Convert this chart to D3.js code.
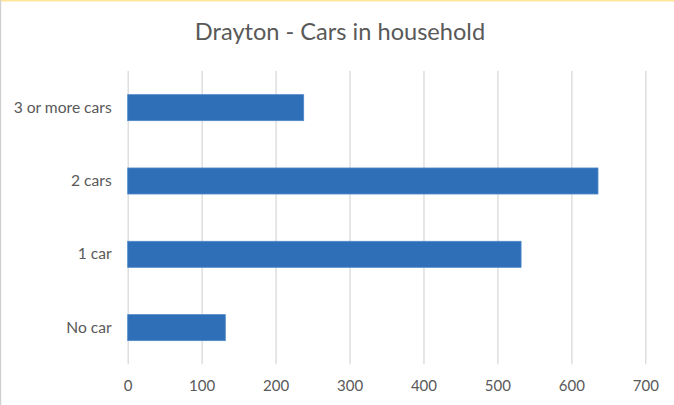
<!DOCTYPE html>
<html>
<head>
<meta charset="utf-8">
<script src="https://cdn.jsdelivr.net/npm/d3@7/dist/d3.min.js"></script>
<style>
  body { margin: 0; background: #fff; }
  .axis text { font-family: Lato, "Open Sans", sans-serif; fill: #595959; }
  .grid line { stroke: #d9d9d9; stroke-width: 1.3; }
</style>
</head>
<body>
<div class="chart"></div>
<script>
var chartTitle = 'Drayton - Cars in household';
var categories = ['3 or more cars', '2 cars', '1 car', 'No car'];
var households = [238, 636, 532, 132];
var xTicks = [0, 100, 200, 300, 400, 500, 600, 700];

var W = 674, H = 405;
var plot = {left: 127.7, right: 645.3, top: 71, bottom: 364.3};

var svg = d3.select('.chart')
            .append('svg')
            .attr('width', W)
            .attr('height', H);

// chart frame edges as seen in the screenshot
svg.append('rect').attr('x', 0).attr('y', 0).attr('width', W).attr('height', H).attr('fill', '#fff');
svg.append('rect').attr('x', 0).attr('y', 0).attr('width', W).attr('height', 1.5).attr('fill', '#ffe699');
svg.append('rect').attr('x', 0).attr('y', 0).attr('width', 1.2).attr('height', H).attr('fill', '#d0d0d0');

var x = d3.scaleLinear().domain([0, 700]).range([plot.left, plot.right]);
var y = d3.scaleBand()
          .domain(categories)
          .range([plot.top, plot.bottom])
          .paddingInner(0.645)
          .paddingOuter(0.3225);

// x axis + vertical gridlines
var xAxis = d3.axisBottom(x)
              .tickValues(xTicks)
              .tickSize(-(plot.bottom - plot.top))
              .tickSizeOuter(0)
              .tickPadding(16.5);

var gx = svg.append('g')
            .attr('class', 'axis grid')
            .attr('transform', 'translate(0,' + plot.bottom + ')')
            .call(xAxis);
gx.select('.domain').remove();
gx.selectAll('text').style('font-size', '15px');

// bars
svg.selectAll('.bar')
   .data(categories)
   .enter()
   .append('rect')
   .attr('class', 'bar')
   .attr('x', x(0))
   .attr('y', function(d) { return y(d); })
   .attr('width', function(d, i) { return x(households[i]) - x(0); })
   .attr('height', y.bandwidth())
   .attr('fill', '#2e6fb7')
   .attr('stroke', '#4f88c9')
   .attr('stroke-width', 0.8);

// y axis (category labels)
var yAxis = d3.axisLeft(y).tickSize(0).tickPadding(16);
var gy = svg.append('g')
            .attr('class', 'axis')
            .attr('transform', 'translate(' + plot.left + ',0)')
            .call(yAxis);
gy.select('.domain').remove();
gy.selectAll('text').style('font-size', '15.6px');

// title
svg.append('text')
   .attr('x', 340)
   .attr('y', 40)
   .attr('text-anchor', 'middle')
   .style('font-family', 'Lato, "Open Sans", sans-serif')
   .style('font-size', '23.6px')
   .style('fill', '#595959')
   .text(chartTitle);
</script>
</body>
</html>
